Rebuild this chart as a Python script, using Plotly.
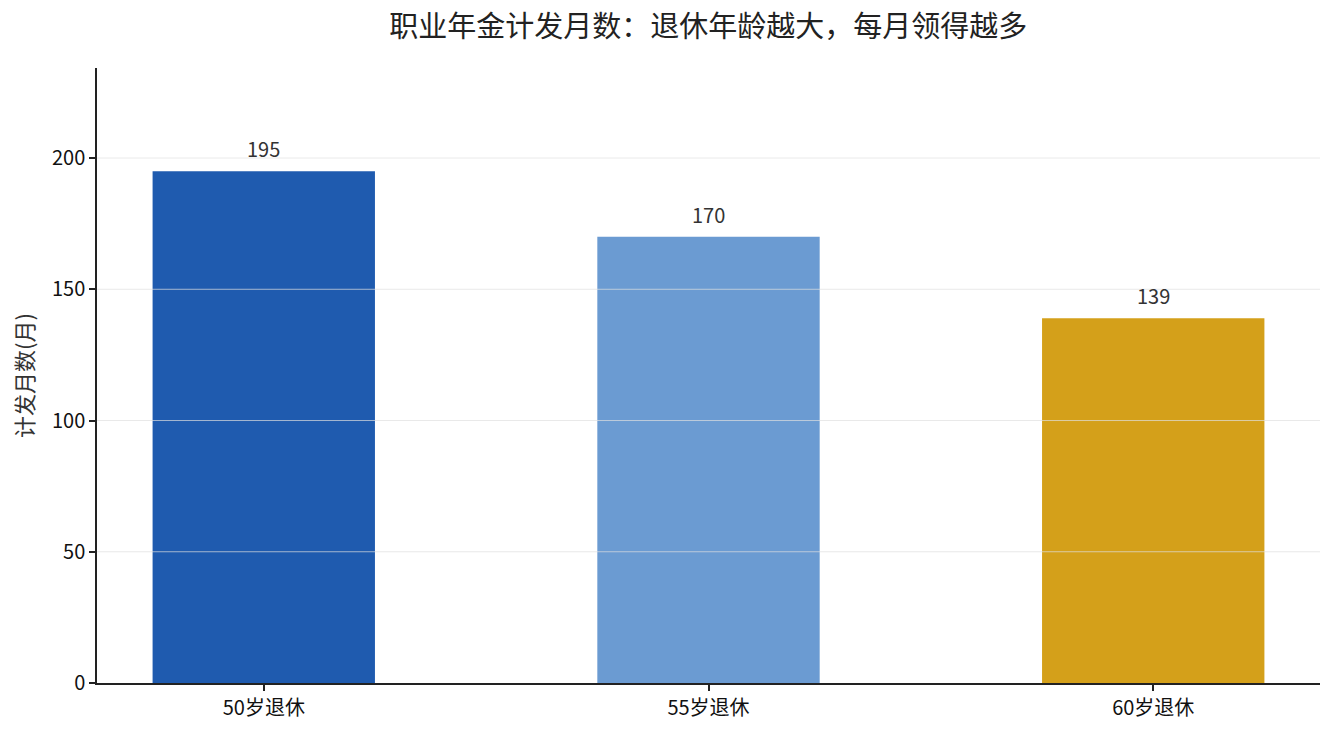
import plotly.graph_objects as go

categories = ["50岁退休", "55岁退休", "60岁退休"]
months = [195, 170, 139]
bar_colors = ["#1f5baf", "#6b9bd2", "#d4a01a"]
y_ticks = [0, 50, 100, 150, 200]
grid_values = [50, 100, 150, 200]

title_text = "职业年金计发月数：退休年龄越大，每月领得越多"
y_title = "计发月数(月)"

FONT = "Noto Sans CJK SC"

fig = go.Figure()
fig.add_trace(go.Bar(
    x=categories,
    y=months,
    marker=dict(color=bar_colors, line=dict(width=0)),
    width=0.5,
    hoverinfo="x+y",
))

# gridlines drawn above the bars (semi-transparent), as in the reference
for g in grid_values:
    fig.add_shape(type="line", xref="paper", x0=0, x1=1, yref="y", y0=g, y1=g,
                  line=dict(color="rgba(224,224,224,0.7)", width=1), layer="above")

# value labels
for c, v in zip(categories, months):
    fig.add_annotation(x=c, y=v, text=str(v), showarrow=False,
                       yanchor="bottom", yshift=6,
                       font=dict(family=FONT, size=20, color="#333333"))

fig.update_layout(
    width=1335, height=735,
    margin=dict(l=97, r=15, t=68, b=52),
    paper_bgcolor="white", plot_bgcolor="white",
    showlegend=False,
    font=dict(family=FONT, size=20, color="#222222"),
    title=dict(text=title_text, x=0.5305, xanchor="center", y=0.963, yanchor="middle",
               font=dict(family=FONT, size=29, color="#222222")),
    xaxis=dict(
        range=[-0.375, 2.375],
        showline=True, linecolor="#222222", linewidth=1.5,
        ticks="outside", ticklen=6, tickwidth=1.5, tickcolor="#222222",
        showgrid=False, zeroline=False,
        tickfont=dict(family=FONT, size=20, color="#111111"),
    ),
    yaxis=dict(
        range=[0, 234.3],
        tickvals=y_ticks,
        showline=True, linecolor="#222222", linewidth=1.5,
        ticks="outside", ticklen=6, tickwidth=1.5, tickcolor="#222222",
        showgrid=False, zeroline=False,
        tickfont=dict(family=FONT, size=20, color="#111111"),
        title=dict(text=y_title, standoff=12,
                   font=dict(family=FONT, size=22, color="#333333")),
    ),
)

fig.write_html("out.html",
               config={"displayModeBar": False},
               post_script="document.body.style.margin='0';document.body.style.overflow='hidden';")
